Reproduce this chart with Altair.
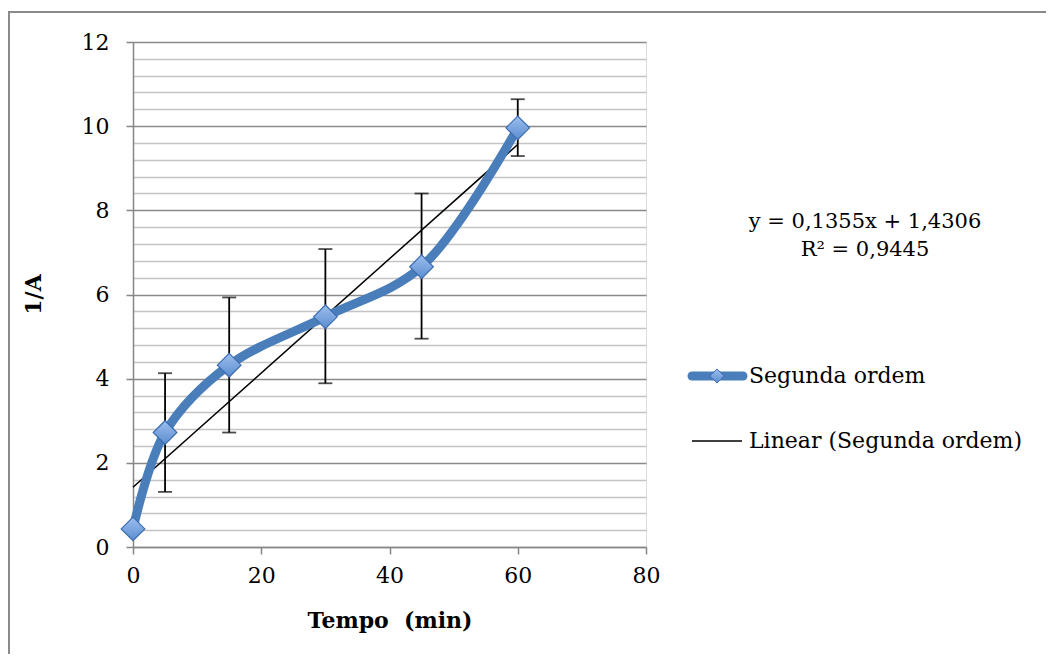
import altair as alt
import pandas as pd

# ---- data ----
tempo = [0, 5, 15, 30, 45, 60]
inv_a = [0.43, 2.72, 4.32, 5.47, 6.66, 9.96]
err_low = [0.43, 1.31, 2.72, 3.89, 4.95, 9.29]
err_high = [0.43, 4.13, 5.93, 7.08, 8.40, 10.64]

x_ticks = [0, 20, 40, 60, 80]
y_grid = [0, 0.4, 0.8, 1.2, 1.6, 2, 2.4, 2.8, 3.2, 3.6, 4, 4.4, 4.8, 5.2, 5.6,
          6, 6.4, 6.8, 7.2, 7.6, 8, 8.4, 8.8, 9.2, 9.6, 10, 10.4, 10.8, 11.2,
          11.6, 12]

eq_lines = ["y = 0,1355x + 1,4306", "R² = 0,9445"]
legend_labels = ["Segunda ordem", "Linear (Segunda ordem)"]

FONT = "DejaVu Serif"
W, H = 513, 505

df = pd.DataFrame({"x": tempo, "y": inv_a, "lo": err_low, "hi": err_high})
df_err = df[df["x"] > 0]
one = pd.DataFrame({"a": [0]})

xs = alt.Scale(domain=[0, 80], nice=False)
ys = alt.Scale(domain=[0, 12], nice=False)

x_axis = alt.Axis(values=x_ticks, grid=False, title="Tempo\u00a0 (min)",
                  format="d",
                  labelFontSize=22, labelFont=FONT, labelColor="black",
                  labelFlush=False, labelOverlap=False,
                  labelPadding=11, tickSize=7, tickColor="#868686",
                  domainColor="#868686", domainWidth=1.5, tickWidth=1.5,
                  titleFont=FONT, titleFontSize=22, titleFontWeight="bold",
                  titleColor="black", titleY=73, titleBaseline="middle")

y_axis = alt.Axis(values=y_grid, grid=True, title="1/A",
                  gridColor={"condition": {"test": "datum.value % 2 === 0", "value": "#8a8a8a"},
                             "value": "#c4c4c4"},
                  gridWidth=1.5,
                  tickColor={"condition": {"test": "datum.value % 2 === 0", "value": "#868686"},
                             "value": "transparent"},
                  labelExpr="datum.value % 2 === 0 ? format(datum.value, 'd') : ''",
                  labelFontSize=22, labelFont=FONT, labelColor="black",
                  labelFlush=False, labelOverlap=False,
                  labelPadding=17, tickSize=7, tickWidth=1.5,
                  domainColor="#868686", domainWidth=1.5,
                  titleFont=FONT, titleFontSize=22, titleFontWeight="bold",
                  titleColor="black", titleX=-100, titleY=252, titleAngle=-90,
                  titleBaseline="middle")

X = alt.X("x:Q", scale=xs, axis=x_axis)

base = alt.Chart(df)

line = base.mark_line(color="#4A7EBB", strokeWidth=9, interpolate="catmull-rom",
                      strokeCap="round").encode(
    x=X, y=alt.Y("y:Q", scale=ys, axis=y_axis))

trend = base.transform_regression("x", "y", extent=[0, 60]).mark_line(
    color="black", strokeWidth=1.5).encode(
    x=X, y=alt.Y("y:Q", scale=ys, axis=y_axis))

stems = alt.Chart(df_err).mark_rule(color="black", strokeWidth=1.8).encode(
    x=X, y=alt.Y("lo:Q", scale=ys, axis=y_axis), y2="hi:Q")
cap_lo = alt.Chart(df_err).mark_tick(color="black", thickness=1.8, size=14,
                                     orient="horizontal").encode(
    x=X, y=alt.Y("lo:Q", scale=ys, axis=y_axis))
cap_hi = alt.Chart(df_err).mark_tick(color="black", thickness=1.8, size=14,
                                     orient="horizontal").encode(
    x=X, y=alt.Y("hi:Q", scale=ys, axis=y_axis))

grad = alt.Gradient(gradient="linear", x1=0, y1=0, x2=0, y2=1,
                    stops=[alt.GradientStop(color="#9DBFEE", offset=0),
                           alt.GradientStop(color="#5B8DD0", offset=1)])

pts = base.mark_point(shape="diamond", size=560, filled=True, fill=grad,
                      stroke="#3D6DB0", strokeWidth=1.2, opacity=1).encode(
    x=X, y=alt.Y("y:Q", scale=ys, axis=y_axis))

# equation text
eq1 = alt.Chart(one).mark_text(font=FONT, fontSize=21, color="black",
                               align="center", baseline="middle",
                               text=eq_lines[0]).encode(
    x=alt.value(732), y=alt.value(180))
eq2 = alt.Chart(one).mark_text(font=FONT, fontSize=21, color="black",
                               align="center", baseline="middle",
                               text=eq_lines[1]).encode(
    x=alt.value(732), y=alt.value(208))

# legend
leg_line = alt.Chart(one).mark_rule(
    color="#4A7EBB", strokeWidth=9, strokeCap="round").encode(
    x=alt.value(559), x2=alt.value(610), y=alt.value(334))
leg_pt = alt.Chart(one).mark_point(
    shape="diamond", size=200, filled=True, fill=grad, stroke="#3D6DB0",
    strokeWidth=1, opacity=1).encode(x=alt.value(584), y=alt.value(334))
leg_trend = alt.Chart(one).mark_rule(
    color="black", strokeWidth=1.5).encode(
    x=alt.value(559), x2=alt.value(609), y=alt.value(399))
leg_t1 = alt.Chart(one).mark_text(font=FONT, fontSize=22, color="black",
                                  align="left", baseline="middle",
                                  text=legend_labels[0]).encode(
    x=alt.value(616), y=alt.value(334))
leg_t2 = alt.Chart(one).mark_text(font=FONT, fontSize=22, color="black",
                                  align="left", baseline="middle",
                                  text=legend_labels[1]).encode(
    x=alt.value(616), y=alt.value(399))

border = alt.Chart(one).mark_rect(
    fill=None, stroke="#8a8a8a", strokeWidth=2).encode(
    x=alt.value(-124), x2=alt.value(1000), y=alt.value(-30), y2=alt.value(700))

chart = alt.layer(
    border, trend, line, stems, cap_lo, cap_hi, pts, eq1, eq2, leg_line, leg_pt,
    leg_trend, leg_t1, leg_t2
).properties(
    width=W, height=H,
    autosize=alt.AutoSizeParams(type="none"),
    padding={"left": 125, "top": 34, "right": 400, "bottom": 107},
).configure_view(strokeWidth=0, stroke="transparent").configure(background="white")

chart.save("out.html", embed_options={"renderer": "svg", "actions": False})
